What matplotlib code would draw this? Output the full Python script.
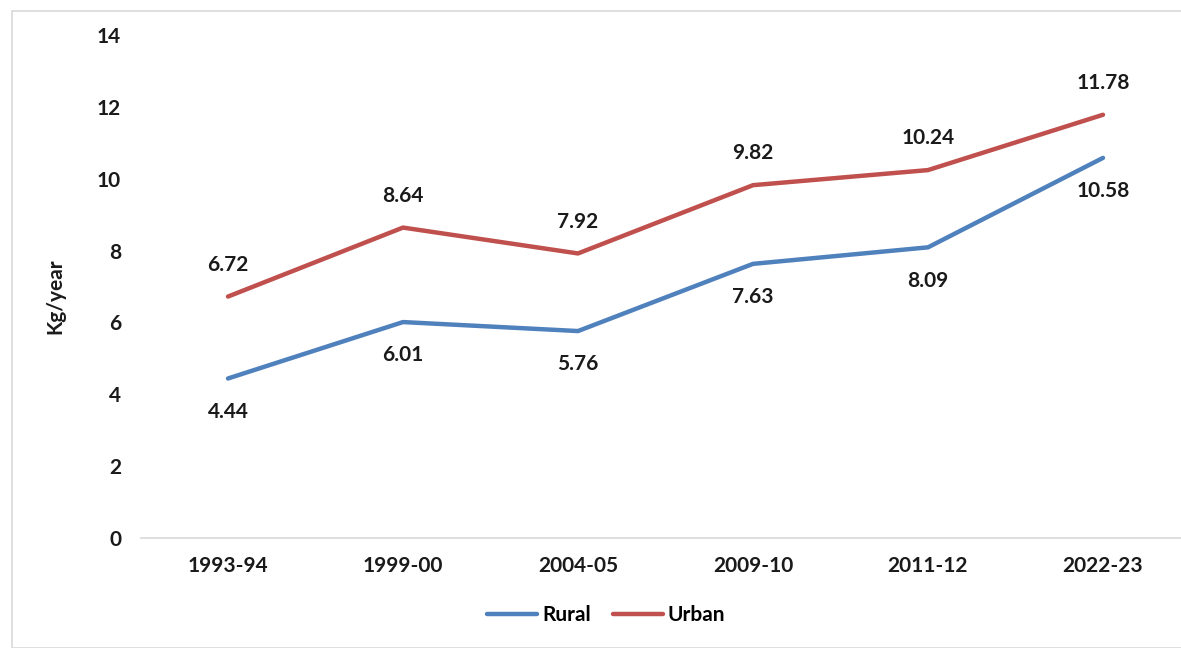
import matplotlib.pyplot as plt
from matplotlib.patches import Rectangle

# consumption per year, rural vs urban
years = ["1993-94", "1999-00", "2004-05", "2009-10", "2011-12", "2022-23"]
rural = [4.44, 6.01, 5.76, 7.63, 8.09, 10.58]
urban = [6.72, 8.64, 7.92, 9.82, 10.24, 11.78]

plt.rcParams['font.family'] = ['Lato', 'DejaVu Sans']
plt.rcParams['font.weight'] = 'bold'

fig = plt.figure(figsize=(11.81, 6.48), dpi=100)
W, H = 1181, 648
ax = fig.add_axes([140.5 / W, 110 / H, 1050 / W, 503 / H])

# light frame around the chart
fig.patches.append(Rectangle((12 / W, 0), 1.0, 1 - 11 / H, transform=fig.transFigure,
                             fill=False, edgecolor='#d9d9d9', linewidth=1.2))

fs = 15
x = list(range(len(years)))
blue = '#4f81bd'
red = '#c0504d'
ax.plot(x, rural, color=blue, lw=3.2, label='Rural', solid_capstyle='round')
ax.plot(x, urban, color=red, lw=3.2, label='Urban', solid_capstyle='round')

# value labels: urban above the line, rural below
for i in x:
    ax.annotate(f"{urban[i]:.2f}", (i, urban[i]), xytext=(0, 23), textcoords='offset points',
                ha='center', va='center', fontsize=fs, fontweight='bold', color='#1a1a1a')
    ax.annotate(f"{rural[i]:.2f}", (i, rural[i]), xytext=(0, -24), textcoords='offset points',
                ha='center', va='center', fontsize=fs, fontweight='bold', color='#1a1a1a')

ax.set_xlim(-0.5, len(years) - 0.5)
ax.set_ylim(0, 14)
ax.set_yticks(range(0, 15, 2))
ax.set_xticks(x)
ax.set_xticklabels(years)
ax.tick_params(length=0, labelsize=fs, colors='#1a1a1a')
ax.tick_params(axis='y', pad=14)
ax.tick_params(axis='x', pad=13)
for s in ['top', 'right', 'left']:
    ax.spines[s].set_visible(False)
ax.spines['bottom'].set_color('#d9d9d9')
ax.spines['bottom'].set_linewidth(1.2)

ax.set_ylabel("Kg/year", fontsize=fs, fontweight='bold', color='#1a1a1a')
ax.yaxis.set_label_coords((65 - 140.5) / 1050, 0.481)

ax.legend(loc='center', bbox_to_anchor=((606 - 140.5) / 1050, -0.153), ncol=2, frameon=False,
          fontsize=fs, handlelength=2.4, handletextpad=0.25, columnspacing=1.05)

fig.savefig("out.png", dpi=100)
